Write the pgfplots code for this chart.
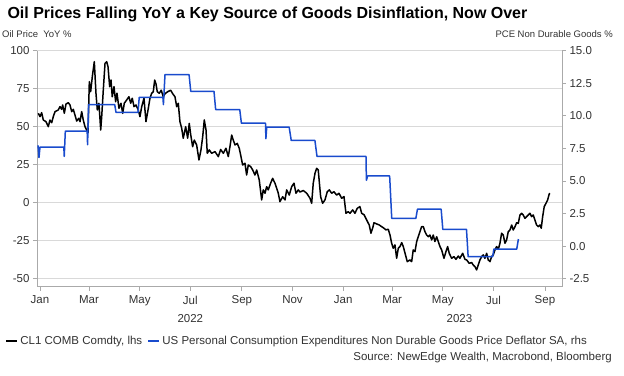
\documentclass[border=0pt]{standalone}
\usepackage{fontspec}
\setmainfont{Liberation Sans}
\usepackage{pgfplots}
\pgfplotsset{compat=1.18}
\usepackage{pgfplotstable}
\definecolor{pceblue}{RGB}{25,75,205}
\definecolor{gridgray}{RGB}{217,217,217}
\definecolor{axisgray}{RGB}{170,170,170}
\definecolor{labelgray}{RGB}{50,50,50}

\pgfplotstableread{
day val
-2.0 58.8
0 56.6
2.0 59.2
4.0 54.4
7.2 53.3
10.0 50
12.0 54.4
14.1 52.6
16.0 56.6
18.1 59.9
22.0 61
24.1 63.2
26.1 61.4
27.3 64.3
29.3 58.8
31.3 64.9
34.1 65.8
36.1 64.3
38.2 59.9
40.1 61.4
42.1 57.7
44.2 53.7
46.6 55.5
48.2 53.3
50.2 59.9
52.1 54.4
54.2 50
56.2 47.8
57.8 46
59.4 79.6
61.0 73
63.0 82.9
65.4 92.8
67.4 72
69.0 61
71.0 65.4
73.1 47.8
74.3 56.6
76.2 74
78.3 91.7
80.3 92.8
81.9 89.5
83.9 76.3
85.5 80.7
87.0 69.7
89.1 76.3
91.1 66.4
92.7 72
95.1 62.1
97.5 65.4
99.6 58.8
101.5 65.4
104.4 67.6
107.1 69.7
109.2 65.4
111.1 68.7
113.2 63.2
115.6 64.3
118.3 61
120.4 56.6
122.4 63
125.2 68.7
127.6 53.3
130.4 62
132.4 68.7
134.5 72
136.4 73
138.1 80.7
139.7 78
141.2 73
143.6 72
146.0 74
148.4 69.7
150.5 71.7
153.7 73
157.3 74
159.8 71.7
162.5 69.7
164.6 63.2
166.5 65.4
168.5 53.3
170.6 49
172.5 42.4
175.4 50
177.8 42.4
179.7 52.2
181.4 45
183.8 36.8
185.8 41.2
188.6 38
191.4 28.1
193.8 34.7
195.9 43.4
197.8 54.4
199.9 47.8
201.4 32.5
203.8 34.7
206.7 32.5
210.7 33.6
214.7 30.3
217.5 35
220.7 32.5
223.9 35.8
226.7 30.3
228.7 36.8
230.8 44.5
232.7 41.2
234.8 38
237.5 39
239.9 35.8
242.0 30.3
244.0 24.8
246.8 25.9
248.8 18.2
250.8 24.8
253.7 23.7
256.1 21.5
258.8 18.2
260.9 21.5
264.0 14.9
266.9 1.8
268.8 8.4
270.9 6.2
272.9 10.5
274.8 8.4
277.7 12.8
280.1 16
282.9 12.8
285.0 9.5
286.9 6.2
288.9 0.7
292.2 3.9
295.0 1.8
297.0 8.4
300.1 5
303.0 10.5
305.8 12.8
308.2 6.2
311.0 8.4
313.0 7
317.0 8
321.1 6.2
325.1 2.9
327.1 -0.4
329.0 12.8
331.1 19.3
333.1 22.6
335.0 21.5
337.9 3.9
340.3 -0.4
343.1 1.8
345.9 7.2
348.3 8.4
351.2 6.2
353.9 7.2
357.2 5
360.0 6.2
363.2 2.9
366.0 4
368.4 -7
371.2 -5.9
373.2 -7
376.5 -4.8
379.2 -7
382.0 -3.7
385.2 -2.6
387.3 -7
390.1 -7.9
393.3 -11.4
396.4 -14.7
398.5 -20.1
400.5 -16.8
402.1 -13.2
405.4 -14
408.5 -14.7
411.4 -15.8
414.1 -16.8
416.5 -17.9
419.3 -17.5
421.4 -21.3
423.4 -26.7
425.3 -30
427.4 -27.8
429.4 -36.6
431.4 -30
433.4 -28.9
435.5 -26.3
437.4 -28.9
440.6 -35.5
442.2 -38.8
445.4 -37.7
447.5 -38.8
449.4 -31.1
451.5 -32.2
453.5 -25.7
455.4 -22.4
457.5 -19.1
459.5 -15.8
461.5 -15.8
463.5 -19.1
465.5 -21.3
467.5 -22.4
469.5 -21.3
471.6 -24.5
473.5 -21.3
475.5 -25.6
477.6 -22.4
479.5 -25.6
481.6 -28.9
483.6 -31.1
486.4 -36.6
488.8 -32.2
490.8 -28.9
492.7 -33.3
495.6 -36.6
498.4 -35.5
500.8 -37.3
503.6 -35.1
505.6 -36.6
508.9 -33.3
511.7 -37.3
513.7 -37.7
516.8 -39.9
519.7 -39.4
521.6 -41
523.7 -42.1
525.7 -44.3
527.7 -41
529.7 -37.7
531.8 -35.5
533.7 -34.4
535.7 -36.6
537.8 -33.3
539.7 -37.7
541.8 -38.8
543.8 -35.5
545.7 -34.4
547.8 -31.1
549.8 -28.9
551.8 -30.7
553.8 -26.7
555.8 -20.1
557.8 -21.3
559.8 -26.7
561.8 -24.5
563.8 -19.1
565.8 -18
567.9 -14.7
569.8 -18
571.9 -15.8
573.9 -13.2
575.8 -13.7
577.9 -8.1
579.9 -7
581.8 -8.1
583.9 -10.3
585.9 -9.2
587.9 -8.1
589.9 -7
591.9 -9.2
593.9 -8.1
595.9 -11.4
597.9 -14.7
599.9 -15.8
601.9 -14.7
603.5 -16.8
605.2 -9.2
607.1 -2.6
609.2 -0.4
611.2 1.8
613.1 5.7
614.0 6.2
}\oiltable

\pgfplotstableread{
day val
-2.4 7.73
-1.2 6.8
0 7.6
28.7 7.6
29.2 6.89
30.5 8.82
56.8 8.82
57.3 7.78
58.5 10.86
90 10.86
91.5 10.27
118 10.27
119.5 11.42
148 11.42
148.6 10.86
150.5 13.16
179.5 13.16
181.5 11.88
209.5 11.88
211.5 10.48
240.5 10.48
242.5 9.43
271.5 9.43
272 8.24
273 9.13
300 9.13
302.5 8.11
331 8.11
333.5 6.89
392.5 6.89
393 5.05
394.5 5.38
421 5.38
423.5 2.12
452.5 2.12
454.5 2.83
483 2.83
485 1.28
513.5 1.28
515.5 -0.82
545 -0.82
546.5 -0.23
574 -0.23
576 0.54
}\pcetable

\newcommand{\tickfont}{\fontsize{11.5bp}{13bp}\selectfont}
\newcommand{\smallfont}{\fontsize{9.5bp}{11bp}\selectfont}

\begin{document}
\begin{tikzpicture}
\useasboundingbox (0,0) rectangle (624bp,376bp);
\begin{axis}[
  at={(37bp,89.3bp)}, anchor=south west,
  scale only axis, width=525bp, height=236bp,
  xmin=-3.6, xmax=628.5, ymin=-55.3, ymax=100,
  axis y line*=left, axis x line*=bottom,
  axis line style={axisgray, line width=0.9bp, -},
  clip=false,
  ytick={-50,-25,0,25,50,75,100},
  xtick={0,59,120,181,243,304,365,424,485,546,608},
  xticklabels={Jan,Mar,May,Jul,Sep,Nov,Jan,Mar,May,Jul,Sep},
  xticklabel style={yshift=-1.5bp},
  tick align=outside, major tick length=4bp,
  tick style={axisgray, line width=0.8bp},
  ymajorgrids, grid style={gridgray, line width=1.1bp},
  /pgf/number format/assume math mode=true,
  tick label style={font=\tickfont, text=labelgray},
  legend style={at={(-32bp,-54.3bp)}, anchor=west, draw=none, fill=none,
    font=\tickfont, text=labelgray, inner sep=0pt,
    /tikz/every even column/.append style={column sep=3bp}},
  legend columns=-1,
  legend image code/.code={\draw[#1, line width=2.2bp] (0bp,0bp) -- (11bp,0bp);},
]
\addplot[black, line width=1.5bp, line join=round] table[x=day, y=val] {\oiltable};
\addlegendentry{CL1 COMB Comdty, lhs}
\addlegendimage{pceblue}
\addlegendentry{US Personal Consumption Expenditures Non Durable Goods Price Deflator SA, rhs}
\node[font=\tickfont, text=labelgray] at (axis cs:181,-55.3) [yshift=-32.3bp] {2022};
\node[font=\tickfont, text=labelgray] at (axis cs:505,-55.3) [yshift=-32.3bp] {2023};
\end{axis}
\begin{axis}[
  at={(37bp,89.3bp)}, anchor=south west,
  scale only axis, width=525bp, height=236bp,
  xmin=-3.6, xmax=628.5, ymin=-3.12, ymax=15,
  axis y line*=right, axis x line=none,
  axis line style={axisgray, line width=0.9bp, -},
  ytick={-2.5,0,2.5,5,7.5,10,12.5,15},
  yticklabel style={/pgf/number format/.cd, fixed, fixed zerofill, precision=1},
  /pgf/number format/assume math mode=true,
  tick align=outside, major tick length=4bp,
  tick style={axisgray, line width=0.8bp},
  tick label style={font=\tickfont, text=labelgray},
]
\addplot[pceblue, line width=1.5bp, line join=round] table[x=day, y=val] {\pcetable};
\end{axis}
\node[anchor=west, font=\fontsize{16bp}{18bp}\selectfont\bfseries] at (4bp,362bp) {Oil Prices Falling YoY a Key Source of Goods Disinflation, Now Over};
\node[anchor=west, font=\smallfont, text=labelgray, inner sep=0pt] at (2bp,342bp) {Oil Price\ \ YoY \%};
\node[anchor=east, font=\smallfont, text=labelgray, inner sep=0pt] at (613bp,342bp) {PCE Non Durable Goods \%};
\node[anchor=east, font=\tickfont, text=labelgray, inner sep=0pt] at (612bp,18bp) {Source: NewEdge Wealth, Macrobond, Bloomberg};
\end{tikzpicture}
\end{document}
